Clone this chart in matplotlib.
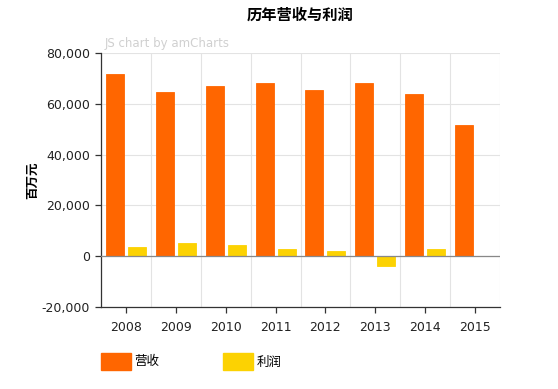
import matplotlib
matplotlib.use("Agg")
import matplotlib.pyplot as plt
import numpy as np
from matplotlib.patches import Rectangle

plt.rcParams['font.family'] = ['DejaVu Sans', 'Noto Sans CJK SC']

years = ['2008', '2009', '2010', '2011', '2012', '2013', '2014', '2015']
revenue = [71900, 64700, 67200, 68400, 65600, 68400, 64000, 51700]
profit = [3700, 5000, 4500, 2600, 1800, -3800, 2600, 150]
series_names = ['营收', '利润']
colors = ['#FF6600', '#FCD202']
yticks = [-20000, 0, 20000, 40000, 60000, 80000]

W, H = 558, 389
fig = plt.figure(figsize=(W / 100, H / 100), dpi=100)
ax = fig.add_axes([101 / W, 1 - 306.7 / H, (500 - 101) / W, (306.7 - 53.3) / H])

x = np.arange(len(years))
bw = 0.36
ax.bar(x - 0.22, revenue, width=bw, color=colors[0], edgecolor=colors[0], linewidth=0.6, zorder=3)
ax.bar(x + 0.22, profit, width=bw, color=colors[1], edgecolor=colors[1], linewidth=0.6, zorder=3)

ax.set_xlim(-0.5, len(years) - 0.5)
ax.set_ylim(-20000, 80000)
ax.set_yticks(yticks)
ax.set_yticklabels([f"{v:,}" for v in yticks], fontsize=9, color='#222222')
ax.set_xticks(x)
ax.set_xticklabels(years, fontsize=9, color='#222222')

# grid
for v in yticks:
    ax.axhline(v, color='#e3e3e3', linewidth=0.8, zorder=1)
for b in np.arange(-0.5, len(years) + 0.5, 1):
    ax.axvline(b, color='#e3e3e3', linewidth=0.8, zorder=1)
ax.axhline(0, color='#888888', linewidth=0.9, zorder=4)

for s in ['top', 'right']:
    ax.spines[s].set_visible(False)
ax.spines['left'].set_color('#333333')
ax.spines['bottom'].set_color('#333333')
ax.spines['left'].set_linewidth(0.9)
ax.spines['bottom'].set_linewidth(0.9)
ax.tick_params(axis='both', direction='out', length=4, width=0.9, color='#333333', pad=4)
ax.tick_params(axis='x', pad=6)

# title
fig.text(300.5 / W, 1 - 15 / H, '历年营收与利润', ha='center', va='center',
         fontsize=11, fontweight='bold', family=['Noto Sans CJK SC', 'DejaVu Sans'])
# watermark
fig.text(105 / W, 1 - 43 / H, 'JS chart by amCharts', ha='left', va='center',
         fontsize=8.5, color='#d0d0d0')
# y label
fig.text(33 / W, 1 - 180 / H, '百万元', ha='center', va='center', rotation=90,
         fontsize=9, fontweight='bold', family=['Noto Sans CJK SC', 'DejaVu Sans'])

# legend
leg_x = [100.7, 222.5]
for lx, name, c in zip(leg_x, series_names, colors):
    fig.patches.append(Rectangle((lx / W, 1 - 370 / H), 30 / W, 17 / H,
                                 transform=fig.transFigure, facecolor=c, edgecolor=c))
    fig.text((lx + 34) / W, 1 - 362 / H, name, ha='left', va='center', fontsize=9,
             family=['Noto Sans CJK SC', 'DejaVu Sans'])

fig.savefig('out.png', dpi=100)
